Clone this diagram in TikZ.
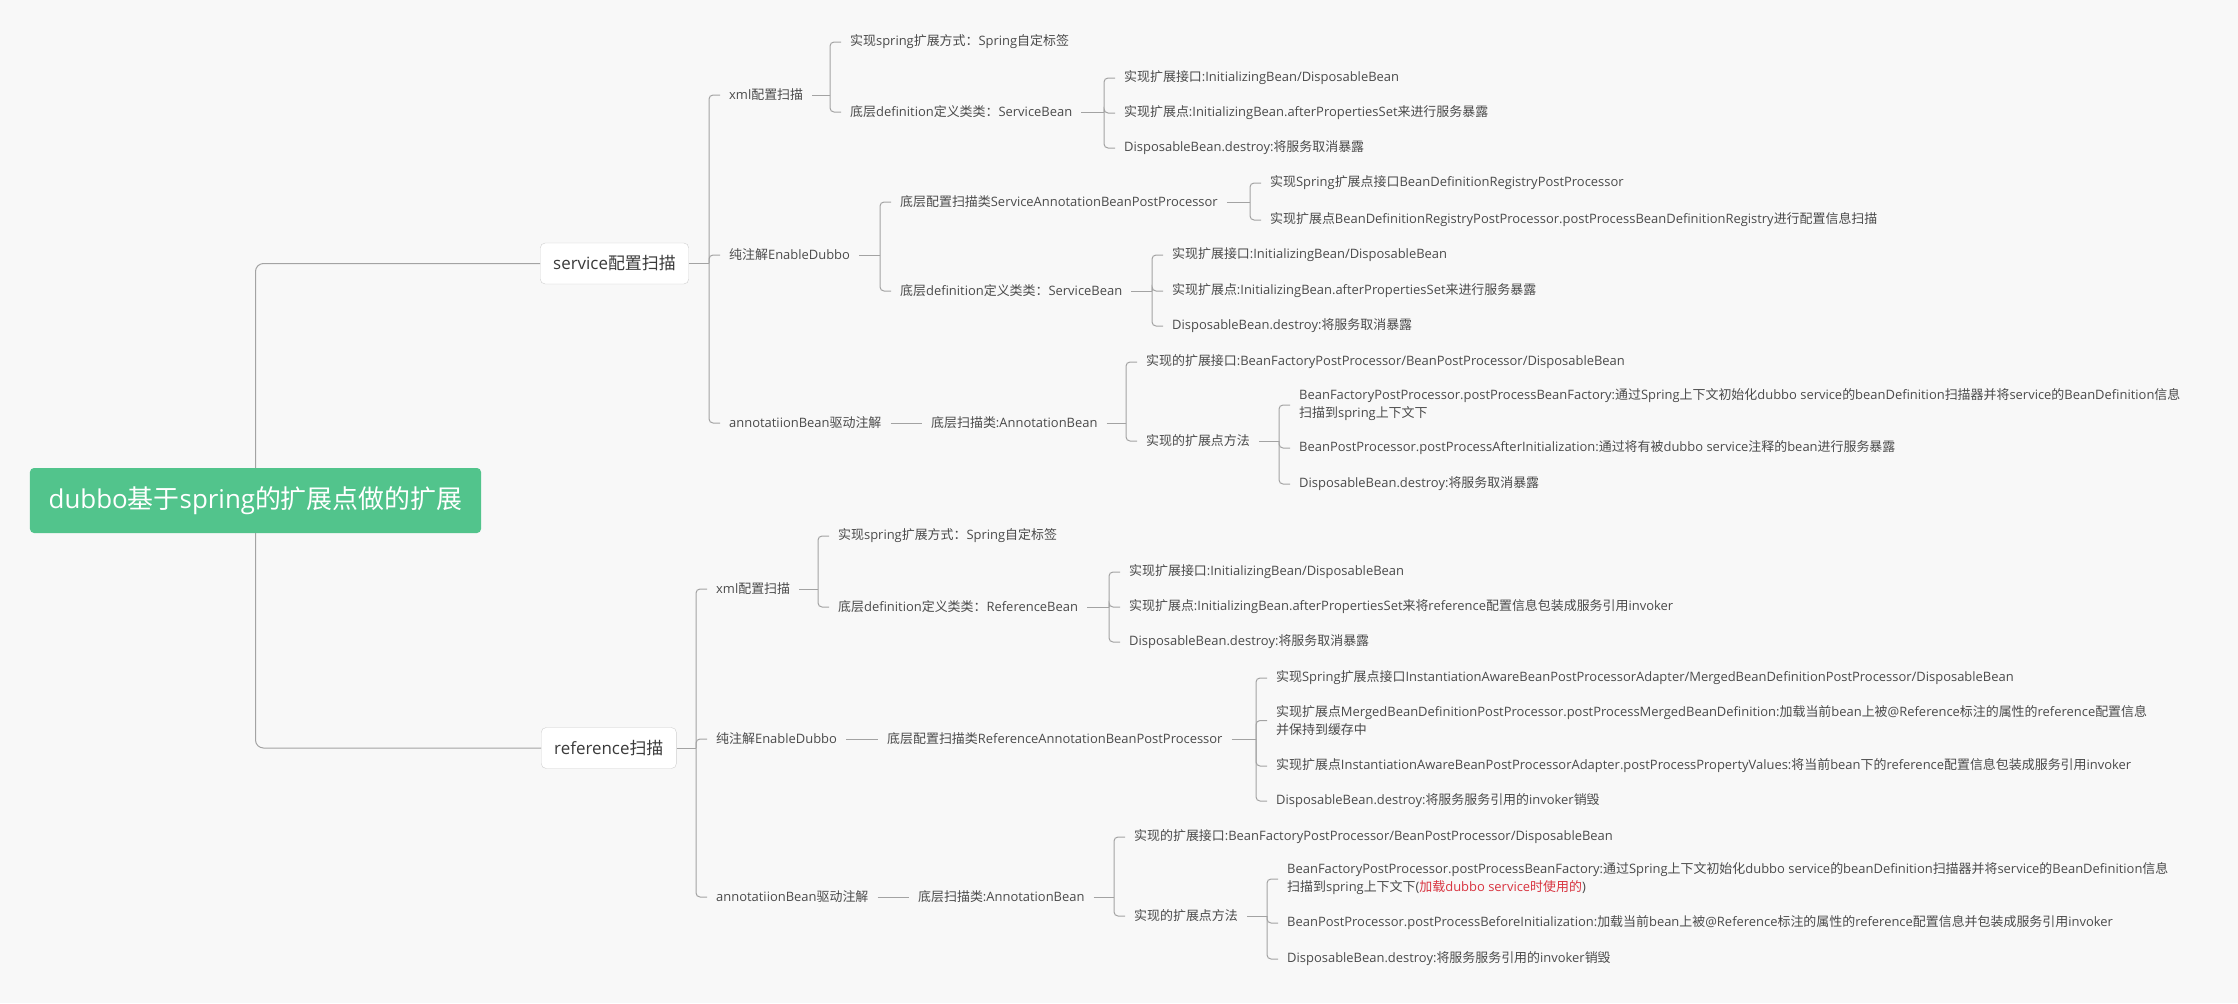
\documentclass[tikz,border=0pt]{standalone}
\usepackage{fontspec}
\setmainfont{Open Sans}
\newfontfamily\cjkfont{Noto Sans CJK SC}
\newfontfamily\latfont{Open Sans}
\newXeTeXintercharclass\mycjk
\newcount\cjkcnt
\def\setcls#1#2#3{\cjkcnt=#1 \loop \XeTeXcharclass\cjkcnt=#3 \ifnum\cjkcnt<#2 \advance\cjkcnt by 1 \repeat}
\setcls{"21}{"7E}{0}
\setcls{"3000}{"303F}{\mycjk}
\setcls{"4E00}{"9FFF}{\mycjk}
\setcls{"FF00}{"FFEF}{\mycjk}
\XeTeXinterchartoks 0 \mycjk = {\cjkfont}
\XeTeXinterchartoks 4095 \mycjk = {\cjkfont}
\XeTeXinterchartoks \mycjk 0 = {\latfont}
\XeTeXinterchartoks \mycjk 4095 = {\latfont}
\XeTeXinterchartokenstate=1
\definecolor{bg}{HTML}{F8F8F8}
\definecolor{ln}{HTML}{A3A3A3}
\definecolor{txt}{HTML}{4A4A4A}
\definecolor{txttop}{HTML}{3A3A3A}
\definecolor{boxb}{HTML}{CFCFCF}
\definecolor{rootg}{HTML}{52C48C}
\definecolor{redt}{HTML}{D8333F}
\tikzset{
  leaf/.style={anchor=west, inner xsep=9bp, inner ysep=2bp, align=left, text=txt, font=\fontsize{13}{18}\selectfont},
  topic/.style={anchor=west, draw=boxb, fill=white, rounded corners=5bp, inner xsep=13bp, minimum height=41bp, text=txttop, font=\fontsize{17}{20}\selectfont},
  rootn/.style={fill=rootg, rounded corners=4bp, minimum width=451bp, minimum height=65bp, text=white, font=\fontsize{26}{30}\selectfont},
  conn/.style={draw=ln, line width=1bp},
}
\newcommand\kids[3]{%
  \path ([xshift=-11bp]#2.west) coordinate (#1-b);
  \draw[conn] (#1.east) -- (#1.east -| #1-b);
  \foreach \c in {#3} {\draw[conn, rounded corners=4bp] (#1.east -| #1-b) |- (\c.west);}
}
\begin{document}
\begin{tikzpicture}[x=1bp, y=-1bp]
\path[fill=bg] (0,0) rectangle (2238,1003);
\useasboundingbox (0,0) rectangle (2238,1003);

% root and main topics
\node[rootn] (root) at (255.5,500.5) {dubbo基于spring的扩展点做的扩展};
\node[topic] (svc) at (540,263.5) {service配置扫描};
\node[topic] (ref) at (541,748) {reference扫描};

% service branch
\node[leaf] (s1) at (720,95) {xml配置扫描};
\node[leaf] (s2) at (720,255) {纯注解EnableDubbo};
\node[leaf] (s3) at (720,423) {annotatiionBean驱动注解};

\node[leaf] (s11) at (841,42) {实现spring扩展方式：Spring自定标签};
\node[leaf] (s12) at (841,112) {底层definition定义类类：ServiceBean};
\node[leaf] (s121) at (1115,78) {实现扩展接口:InitializingBean/DisposableBean};
\node[leaf] (s122) at (1115,113) {实现扩展点:InitializingBean.afterPropertiesSet来进行服务暴露};
\node[leaf] (s123) at (1115,148) {DisposableBean.destroy:将服务取消暴露};

\node[leaf] (s21) at (891,202) {底层配置扫描类ServiceAnnotationBeanPostProcessor};
\node[leaf] (s22) at (891,291) {底层definition定义类类：ServiceBean};
\node[leaf] (s211) at (1261,183) {实现Spring扩展点接口BeanDefinitionRegistryPostProcessor};
\node[leaf] (s212) at (1261,220) {实现扩展点BeanDefinitionRegistryPostProcessor.postProcessBeanDefinitionRegistry进行配置信息扫描};
\node[leaf] (s221) at (1163,255) {实现扩展接口:InitializingBean/DisposableBean};
\node[leaf] (s222) at (1163,291) {实现扩展点:InitializingBean.afterPropertiesSet来进行服务暴露};
\node[leaf] (s223) at (1163,326) {DisposableBean.destroy:将服务取消暴露};

\node[leaf] (s31) at (922,423) {底层扫描类:AnnotationBean};
\node[leaf] (s311) at (1137,362) {实现的扩展接口:BeanFactoryPostProcessor/BeanPostProcessor/DisposableBean};
\node[leaf] (s312) at (1137,441) {实现的扩展点方法};
\node[leaf] (s3121) at (1290,405) {BeanFactoryPostProcessor.postProcessBeanFactory:通过Spring上下文初始化dubbo service的beanDefinition扫描器并将service的BeanDefinition信息\\扫描到spring上下文下};
\node[leaf] (s3122) at (1290,448) {BeanPostProcessor.postProcessAfterInitialization:通过将有被dubbo service注释的bean进行服务暴露};
\node[leaf] (s3123) at (1290,484) {DisposableBean.destroy:将服务取消暴露};

% reference branch
\node[leaf] (r1) at (707,589) {xml配置扫描};
\node[leaf] (r2) at (707,739) {纯注解EnableDubbo};
\node[leaf] (r3) at (707,897) {annotatiionBean驱动注解};

\node[leaf] (r11) at (829,536) {实现spring扩展方式：Spring自定标签};
\node[leaf] (r12) at (829,607) {底层definition定义类类：ReferenceBean};
\node[leaf] (r121) at (1120,572) {实现扩展接口:InitializingBean/DisposableBean};
\node[leaf] (r122) at (1120,607) {实现扩展点:InitializingBean.afterPropertiesSet来将reference配置信息包装成服务引用invoker};
\node[leaf] (r123) at (1120,642) {DisposableBean.destroy:将服务取消暴露};

\node[leaf] (r21) at (878,739) {底层配置扫描类ReferenceAnnotationBeanPostProcessor};
\node[leaf] (r211) at (1267,678) {实现Spring扩展点接口InstantiationAwareBeanPostProcessorAdapter/MergedBeanDefinitionPostProcessor/DisposableBean};
\node[leaf] (r212) at (1267,720.5) {实现扩展点MergedBeanDefinitionPostProcessor.postProcessMergedBeanDefinition:加载当前bean上被@Reference标注的属性的reference配置信息\\并保持到缓存中};
\node[leaf] (r213) at (1267,766) {实现扩展点InstantiationAwareBeanPostProcessorAdapter.postProcessPropertyValues:将当前bean下的reference配置信息包装成服务引用invoker};
\node[leaf] (r214) at (1267,801) {DisposableBean.destroy:将服务服务引用的invoker销毁};

\node[leaf] (r31) at (909,897) {底层扫描类:AnnotationBean};
\node[leaf] (r311) at (1125,837) {实现的扩展接口:BeanFactoryPostProcessor/BeanPostProcessor/DisposableBean};
\node[leaf] (r312) at (1125,916) {实现的扩展点方法};
\node[leaf] (r3121) at (1278,879) {BeanFactoryPostProcessor.postProcessBeanFactory:通过Spring上下文初始化dubbo service的beanDefinition扫描器并将service的BeanDefinition信息\\扫描到spring上下文下(\textcolor{redt}{加载dubbo service时使用的})};
\node[leaf] (r3122) at (1278,923) {BeanPostProcessor.postProcessBeforeInitialization:加载当前bean上被@Reference标注的属性的reference配置信息并包装成服务引用invoker};
\node[leaf] (r3123) at (1278,959) {DisposableBean.destroy:将服务服务引用的invoker销毁};

% connectors
\draw[conn, rounded corners=8bp] (root.north) |- (svc.west);
\draw[conn, rounded corners=8bp] (root.south) |- (ref.west);

\kids{svc}{s1}{s1,s2,s3}
\kids{s1}{s11}{s11,s12}
\kids{s12}{s121}{s121,s122,s123}
\kids{s2}{s21}{s21,s22}
\kids{s21}{s211}{s211,s212}
\kids{s22}{s221}{s221,s222,s223}
\draw[conn] (s3.east) -- (s31.west);
\kids{s31}{s311}{s311,s312}
\kids{s312}{s3121}{s3121,s3122,s3123}

\kids{ref}{r1}{r1,r2,r3}
\kids{r1}{r11}{r11,r12}
\kids{r12}{r121}{r121,r122,r123}
\draw[conn] (r2.east) -- (r21.west);
\kids{r21}{r211}{r211,r212,r213,r214}
\draw[conn] (r3.east) -- (r31.west);
\kids{r31}{r311}{r311,r312}
\kids{r312}{r3121}{r3121,r3122,r3123}
\end{tikzpicture}
\end{document}
